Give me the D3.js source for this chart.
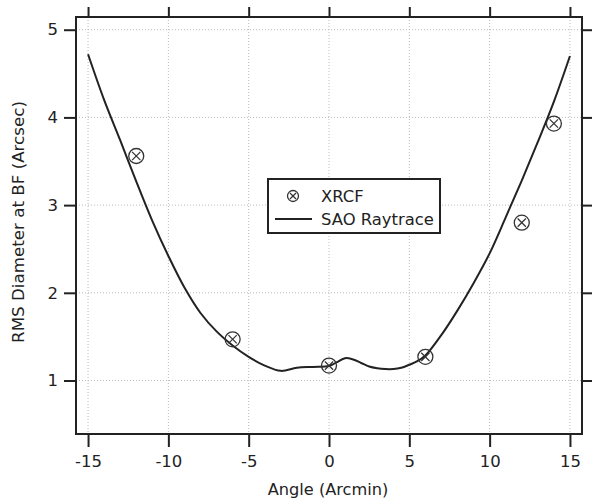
<!DOCTYPE html>
<html><head><meta charset="utf-8">
<script src="https://cdn.jsdelivr.net/npm/d3@7"></script>
<style>body{margin:0;background:#fff}svg{display:block}text{font-family:"DejaVu Sans",sans-serif;fill:#222}</style>
</head><body><svg id="c" width="592" height="503"></svg>
<script>
const xrcfAngle = [-12, -6, 0, 6, 12, 14];
const xrcfRms = [3.56, 1.47, 1.17, 1.27, 2.80, 3.93];
const saoAngle = [-15,-14,-13,-12,-11,-10,-9,-8,-7,-6,-5,-4,-3,-2,-1,0,0.5,1,1.5,2,2.5,3,3.5,4,4.5,5,5.5,6,7,8,9,10,11,12,13,14,15];
const saoRms = [4.72,4.20,3.74,3.27,2.82,2.42,2.06,1.77,1.56,1.40,1.27,1.17,1.11,1.145,1.155,1.165,1.21,1.255,1.24,1.20,1.16,1.14,1.13,1.13,1.145,1.18,1.22,1.285,1.52,1.80,2.11,2.45,2.86,3.28,3.72,4.18,4.70];
const xTicks = [-15,-10,-5,0,5,10,15];
const yTicks = [1,2,3,4,5];
const legendLabels = ["XRCF","SAO Raytrace"];

const svg = d3.select("#c");
const L=76, R=582, T=17, B=434;
const x = d3.scaleLinear().domain([-15.75,15.75]).range([L,R]);
const y = d3.scaleLinear().domain([0.39,5.145]).range([B,T]);
const fmt = d => String(d);

// grid
const g = svg.append("g");
g.selectAll(".gx").data(xTicks).enter().append("line")
 .attr("x1",d=>x(d)).attr("x2",d=>x(d)).attr("y1",T).attr("y2",B)
 .attr("stroke","#bbb").attr("stroke-width",1).attr("stroke-dasharray","1,2");
g.selectAll(".gy").data(yTicks).enter().append("line")
 .attr("y1",d=>y(d)).attr("y2",d=>y(d)).attr("x1",L).attr("x2",R)
 .attr("stroke","#bbb").attr("stroke-width",1).attr("stroke-dasharray","1,2");

// axes
const ax = (gen, tx, ty, labels) => {
  const a = svg.append("g").attr("transform",`translate(${tx},${ty})`).call(gen);
  a.select(".domain").remove();
  a.selectAll(".tick line").attr("stroke","#222").attr("stroke-width",2);
  a.selectAll(".tick text").style("font-size","16.5px").style("font-family","'DejaVu Sans',sans-serif").attr("fill","#222");
  if(!labels) a.selectAll(".tick text").remove();
  return a;
};
ax(d3.axisBottom(x).tickValues(xTicks).tickSize(13).tickPadding(8).tickFormat(fmt),0,B,true);
ax(d3.axisTop(x).tickValues(xTicks).tickSize(10),0,T,false);
ax(d3.axisLeft(y).tickValues(yTicks).tickSize(12).tickPadding(6).tickFormat(fmt),L,0,true);
ax(d3.axisRight(y).tickValues(yTicks).tickSize(12),R,0,false);

// frame
svg.append("rect").attr("x",L).attr("y",T).attr("width",R-L).attr("height",B-T)
 .attr("fill","none").attr("stroke","#222").attr("stroke-width",2);

// curve
const line = d3.line().x((d,i)=>x(saoAngle[i])).y(d=>y(d)).curve(d3.curveCatmullRom.alpha(0.5));
svg.append("path").datum(saoRms).attr("d",line).attr("fill","none").attr("stroke","#222").attr("stroke-width",2);

// markers
function marker(sel, r){
  sel.append("circle").attr("r",r).attr("fill","none").attr("stroke","#333").attr("stroke-width",1.3);
  const k=r*0.55;
  sel.append("line").attr("x1",-k).attr("y1",-k).attr("x2",k).attr("y2",k).attr("stroke","#333").attr("stroke-width",1.2);
  sel.append("line").attr("x1",-k).attr("y1",k).attr("x2",k).attr("y2",-k).attr("stroke","#333").attr("stroke-width",1.2);
}
xrcfAngle.forEach((a,i)=>{
  const m = svg.append("g").attr("transform",`translate(${x(a)},${y(xrcfRms[i])})`);
  marker(m,7.5);
});

// legend
const lg = svg.append("g");
lg.append("rect").attr("x",268).attr("y",179).attr("width",172).attr("height",54)
 .attr("fill","#fff").attr("stroke","#222").attr("stroke-width",2);
marker(lg.append("g").attr("transform","translate(293,196)"),5.5);
lg.append("line").attr("x1",275).attr("x2",312).attr("y1",219).attr("y2",219).attr("stroke","#222").attr("stroke-width",2);
lg.append("text").attr("x",321).attr("y",202).style("font-size","16.4px").text(legendLabels[0]);
lg.append("text").attr("x",321).attr("y",225).style("font-size","16.4px").text(legendLabels[1]);

// titles
svg.append("text").attr("x",328).attr("y",495).attr("text-anchor","middle").style("font-size","16.2px").text("Angle (Arcmin)");
svg.append("text").attr("transform","translate(24,222) rotate(-90)").attr("text-anchor","middle").style("font-size","16.7px").text("RMS Diameter at BF (Arcsec)");
</script></body></html>
